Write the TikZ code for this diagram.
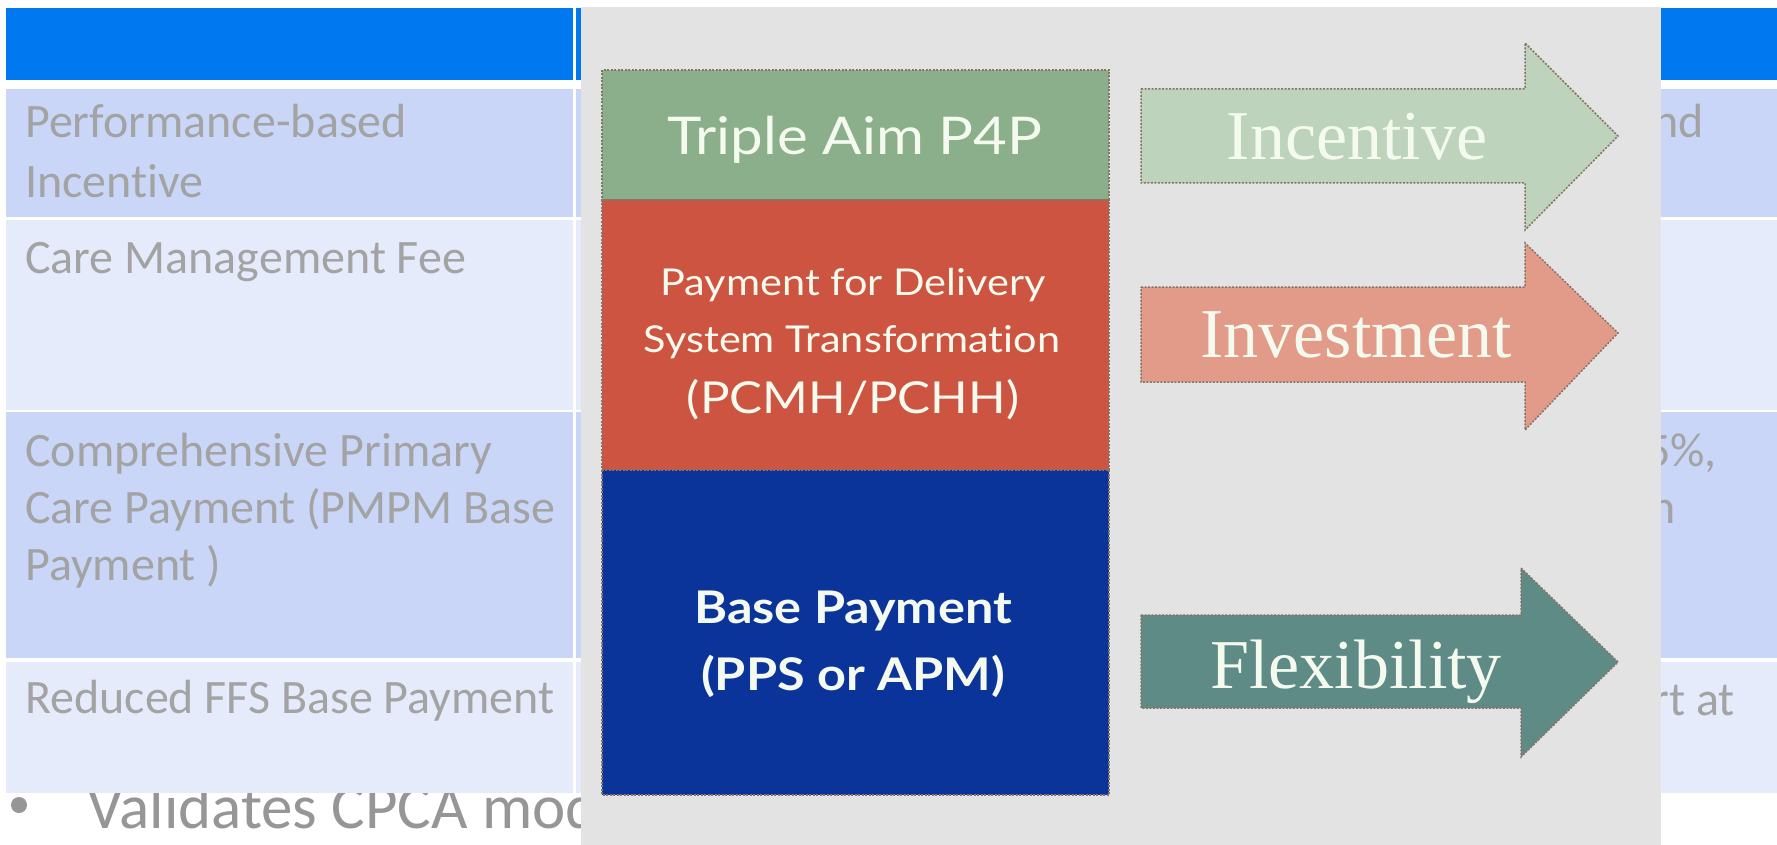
\documentclass[tikz,border=0pt]{standalone}
\usepackage{fontspec}
\setmainfont{Carlito}[Ligatures=NoCommon]
\newfontfamily\boxfont{Lato}[Ligatures=NoCommon, FakeStretch=1.12]
\newfontfamily\arrowfont{Liberation Serif}
\definecolor{hdr}{HTML}{0078F0}
\definecolor{rowA}{HTML}{CAD6F8}
\definecolor{rowB}{HTML}{E5EBFB}
\definecolor{celltxt}{HTML}{A3A3A3}
\definecolor{bullettxt}{HTML}{969696}
\definecolor{panel}{HTML}{E3E3E3}
\definecolor{aimgreen}{HTML}{8BAE8B}
\definecolor{deliv}{HTML}{CD5440}
\definecolor{basep}{HTML}{0B349B}
\definecolor{incent}{HTML}{BDD3BC}
\definecolor{invest}{HTML}{E39B89}
\definecolor{flex}{HTML}{5F8B86}
\definecolor{edgecol}{HTML}{857468}
\definecolor{paletxt}{HTML}{F4FAEE}
\tikzset{
  celltext/.style={inner sep=0pt, text=celltxt, font=\fontsize{48}{56}\selectfont},
  layer/.style={draw=edgecol, line width=1.5pt, dash pattern=on 2pt off 1.5pt},
  layertext/.style={inner sep=0pt, text=paletxt, font=\boxfont\fontsize{#1}{#1}\selectfont},
  layerbold/.style={inner sep=0pt, text=paletxt, font=\boxfont\bfseries\fontsize{#1}{#1}\selectfont},
  arrowbody/.style={draw=edgecol, line width=1.5pt, dash pattern=on 2pt off 1.5pt},
  arrowtext/.style={inner sep=0pt, text=paletxt, font=\arrowfont\fontsize{70}{70}\selectfont}
}
\begin{document}
\begin{tikzpicture}[x=1pt, y=-1pt]
\useasboundingbox (0,0) rectangle (1777,845);
\fill[white] (0,0) rectangle (1777,845);

% bullet line beneath the table
\fill[bullettxt] (19,805) circle (8);
\node[inner sep=0pt, text=bullettxt, font=\fontsize{63}{66}\selectfont, anchor=base west] (bul) at (87,828) {Validates CPCA mod};

% table: header and rows
\fill[hdr] (6,8) rectangle (573,80);
\fill[hdr] (576,8) rectangle (1777,80);
\fill[rowA] (6,89) rectangle (573,217);
\fill[rowA] (576,89) rectangle (1777,217);
\fill[rowB] (6,220) rectangle (573,410);
\fill[rowB] (576,220) rectangle (1777,410);
\fill[rowA] (6,412) rectangle (573,658);
\fill[rowA] (576,412) rectangle (1777,658);
\fill[rowB] (6,662) rectangle (573,793);
\fill[rowB] (576,662) rectangle (1777,793);

% first column
\node[celltext, anchor=base west] (r1a) at (25,138) {Performance-based};
\node[celltext, anchor=base west] (r1b) at (25,197) {Incentive};
\node[celltext, anchor=base west] (r2a) at (25,273) {Care Management Fee};
\node[celltext, anchor=base west] (r3a) at (25,466) {Comprehensive Primary};
\node[celltext, anchor=base west] (r3b) at (25,523) {Care Payment (PMPM Base};
\node[celltext, anchor=base west] (r3c) at (25,580) {Payment )};
\node[celltext, anchor=base west] (r4a) at (25,713) {Reduced FFS Base Payment};

% last column fragments
\node[celltext, anchor=base east] (c1) at (1704,138) {nd};
\node[celltext, anchor=base east] (c3a) at (1717,466) {5\%,};
\node[celltext, anchor=base east] (c3b) at (1676,523) {n};
\node[celltext, anchor=base east] (c4) at (1735,715) {rt at};

% payment model panel
\fill[panel] (581,7) rectangle (1661,845);

% stacked payment layers
\path[fill=aimgreen, layer] (602,70) rectangle (1109,200);
\path[fill=deliv, layer] (602,200) rectangle (1109,470);
\path[fill=basep, layer] (602,470) rectangle (1109,795);

\node[layertext=52, anchor=base] (aim) at (855,155) {Triple Aim P4P};
\node[layertext=37, anchor=base] (pd1) at (853,295) {Payment for Delivery};
\node[layertext=37, anchor=base] (pd2) at (852,352) {System Transformation};
\node[layertext=44, anchor=base] (pd3) at (853,413) {(PCMH/PCHH)};
\node[layerbold=45, anchor=base] (bp1) at (853,623) {Base Payment};
\node[layerbold=45, anchor=base] (bp2) at (853,690) {(PPS or APM)};

% arrows
\path[fill=incent, arrowbody] (1141,89) -- (1525,89) -- (1525,43) -- (1618,136) -- (1525,230) -- (1525,183) -- (1141,183) -- cycle;
\path[fill=invest, arrowbody] (1141,287) -- (1525,287) -- (1525,243) -- (1618,333) -- (1525,430) -- (1525,382) -- (1141,382) -- cycle;
\path[fill=flex, arrowbody] (1141,615) -- (1521,615) -- (1521,568) -- (1618,662) -- (1521,757) -- (1521,708) -- (1141,708) -- cycle;

\node[arrowtext, anchor=base] (inc) at (1357,160) {Incentive};
\node[arrowtext, anchor=base] (inv) at (1356,357) {Investment};
\node[arrowtext, anchor=base] (flx) at (1356,688) {Flexibility};
\end{tikzpicture}
\end{document}
